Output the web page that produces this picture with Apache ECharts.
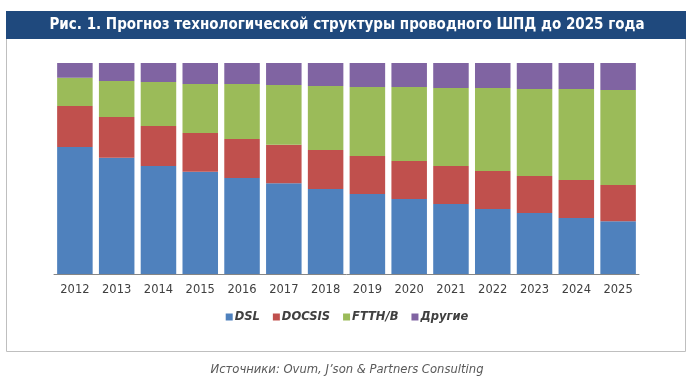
<!DOCTYPE html>
<html>
<head>
<meta charset="utf-8">
<script src="https://cdn.jsdelivr.net/npm/echarts@6/dist/echarts.min.js"></script>
<style>
html,body{margin:0;padding:0;background:#fff;}
#chart{width:694px;height:391px;}
</style>
</head>
<body>
<div id="chart"></div>
<script>
var years = ['2012','2013','2014','2015','2016','2017','2018','2019','2020','2021','2022','2023','2024','2025'];
var dsl    = [60.2, 55.1, 51.2, 48.5, 45.5, 43.0, 40.3, 37.9, 35.5, 33.2, 30.8, 28.9, 26.5, 25.0];
var docsis = [19.4, 19.3, 19.0, 18.3, 18.5, 18.2, 18.5, 18.0, 18.0, 18.0, 18.0, 17.5, 18.0, 17.2];
var ftth   = [13.4, 17.1, 20.8, 23.2, 26.0, 28.4, 30.3, 32.7, 35.1, 37.0, 39.4, 41.3, 43.2, 45.0];
var other  = [ 7.0,  8.5,  9.0, 10.0, 10.0, 10.4, 10.9, 11.4, 11.4, 11.8, 11.8, 12.3, 12.3, 12.8];
var seriesNames = ['DSL', 'DOCSIS', 'FTTH/B', 'Другие'];
var titleText = 'Рис. 1. Прогноз технологической структуры проводного ШПД до 2025 года';
var sourceText = 'Источники: Ovum, J\u2019son & Partners Consulting';

var colors = ['#4F81BD', '#C0504D', '#9BBB59', '#8064A2'];
var values = [dsl, docsis, ftth, other];

var chart = echarts.init(document.getElementById('chart'), null, {renderer: 'canvas'});
chart.setOption({
  animation: false,
  backgroundColor: '#ffffff',
  graphic: [
    {type: 'rect', z: -10, shape: {x: 6.5, y: 11.5, width: 679, height: 340}, style: {fill: '#ffffff', stroke: '#BFBFBF', lineWidth: 1}},
    {type: 'rect', z: -9, shape: {x: 6, y: 11, width: 680, height: 28}, style: {fill: '#1F497D'}}
  ],
  title: [
    {text: titleText, left: 'center', top: 16, padding: 0, textStyle: {color: '#ffffff', fontFamily: 'DejaVu Sans Condensed', fontWeight: 'bold', fontSize: 15, lineHeight: 18}},
    {text: sourceText, left: 'center', top: 363, padding: 0, textStyle: {color: '#595959', fontFamily: 'DejaVu Sans', fontStyle: 'italic', fontWeight: 'normal', fontSize: 11.6, lineHeight: 14}}
  ],
  legend: {
    data: seriesNames,
    left: 'center',
    top: 310,
    padding: 0,
    icon: 'rect',
    itemWidth: 7,
    itemHeight: 7,
    itemGap: 13,
    textStyle: {color: '#404040', fontFamily: 'DejaVu Sans', fontWeight: 'bold', fontStyle: 'italic', fontSize: 11.5, lineHeight: 14, padding: [0, 0, 0, -3]}
  },
  grid: {left: 54, right: 55, top: 63, bottom: 117, containLabel: false},
  xAxis: {
    type: 'category',
    data: years,
    axisLine: {lineStyle: {color: '#868686', width: 1}},
    axisTick: {length: 5, lineStyle: {color: '#868686'}},
    axisLabel: {color: '#404040', fontFamily: 'DejaVu Sans', fontSize: 11.5, margin: 10}
  },
  yAxis: {type: 'value', min: 0, max: 100, show: false, splitLine: {show: false}},
  series: seriesNames.map(function (n, i) {
    return {
      name: n,
      type: 'bar',
      stack: 'total',
      data: values[i],
      barCategoryGap: '15%',
      itemStyle: {color: colors[i]}
    };
  })
});
</script>
</body>
</html>
